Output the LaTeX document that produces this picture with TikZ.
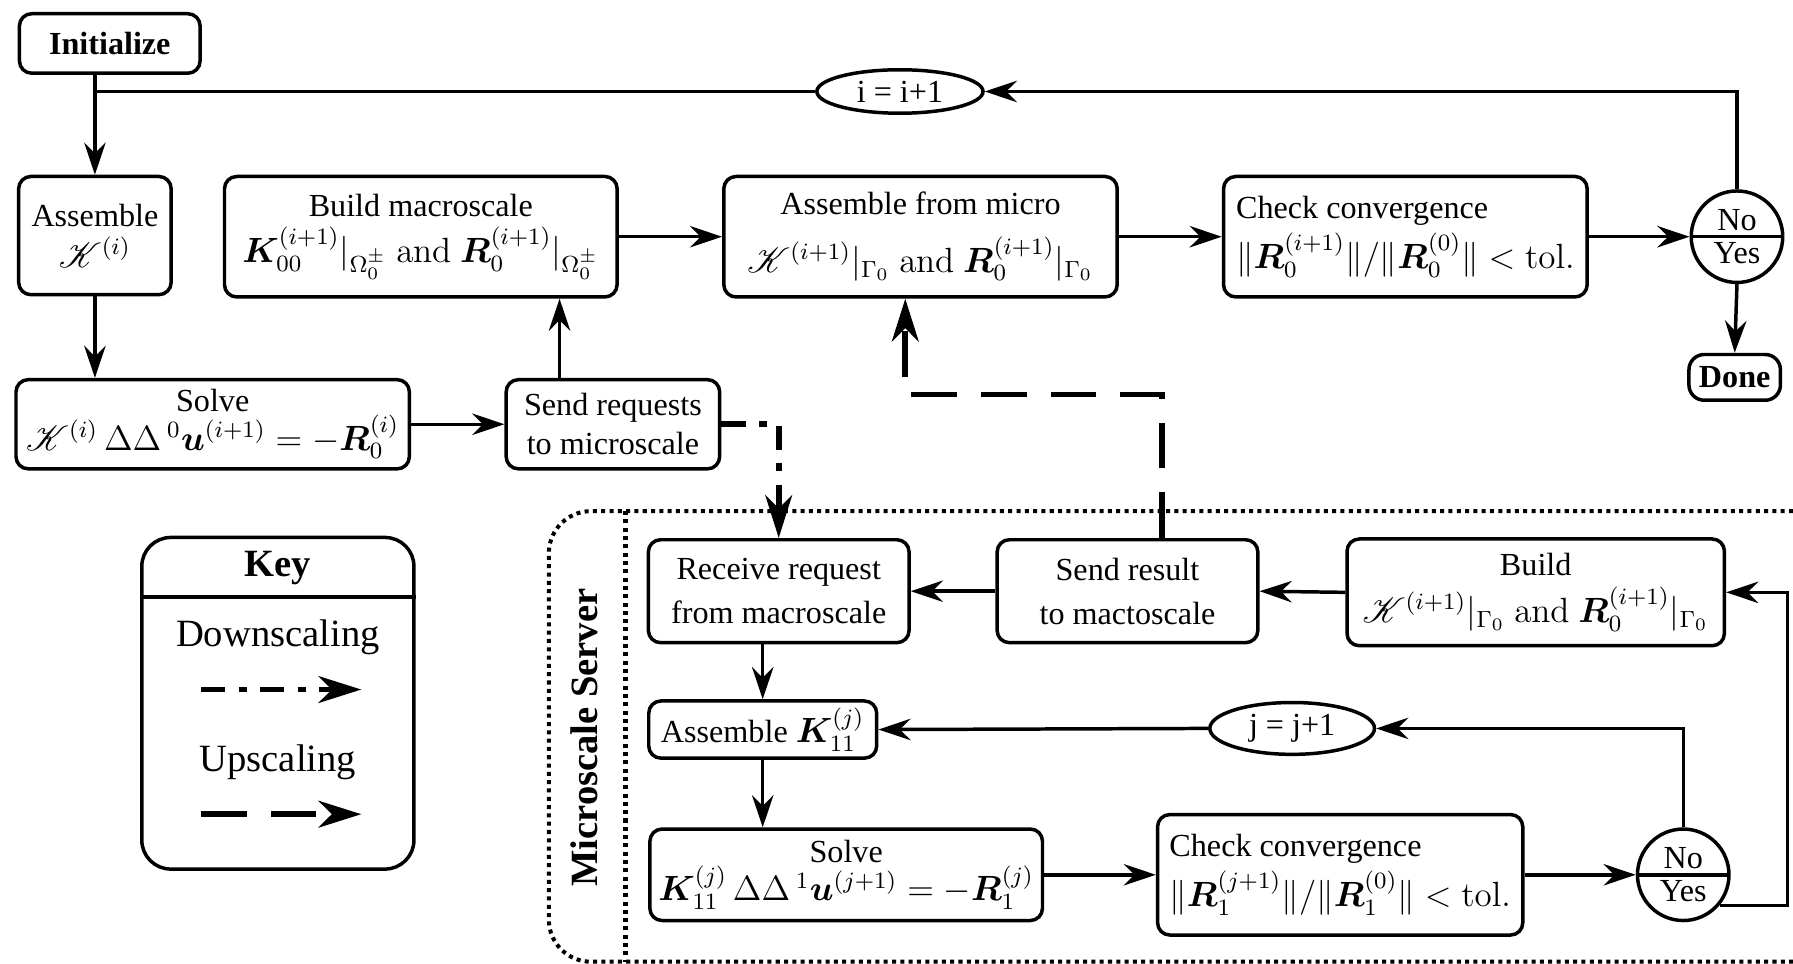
\documentclass[tikz,border=0pt]{standalone}
\usepackage[no-math]{fontspec}
\setmainfont{Liberation Serif}
\usepackage{amsmath,bm,mathrsfs}
\usetikzlibrary{shapes.geometric,shapes.multipart,arrows.meta}

\begin{document}
\begin{tikzpicture}[
  x=0.015cm, y=-0.015cm,
  every node/.style={font=\fontsize{12}{14.4}\selectfont, inner sep=2pt},
  procbox/.style={draw, line width=1.3pt, rounded corners=0.16cm, align=center},
  counter/.style={draw, ellipse, line width=1.3pt, inner sep=0pt},
  decision/.style={draw, circle split, line width=1.3pt, minimum size=1.2cm, inner sep=1.5pt},
  arr/.style={line width=1.3pt, -{Stealth[length=12pt,width=8pt,inset=4pt]}},
  downscale/.style={line width=2.1pt, dash pattern=on 9pt off 5pt on 3pt off 5pt,
    -{Stealth[length=16pt,width=10pt,inset=5pt]}},
  upscale/.style={line width=2.1pt, dash pattern=on 17pt off 9pt,
    -{Stealth[length=16pt,width=10pt,inset=5pt]}},
  frame/.style={line width=1.5pt, dash pattern=on 1.5pt off 1.6pt},
]
%-------------------------------------------------------------
\newcommand{\bigfont}{\fontsize{14.4}{17.3}\selectfont}
\newcommand{\eqline}[1]{\scalebox{1.09}{$#1$}}
\newcommand{\andtxt}{\ \mathrm{and}\ }

\useasboundingbox (0,0) rectangle (1568,843);

%============================================================
% macroscale
\node[procbox, font=\fontsize{12}{14.4}\selectfont\bfseries, minimum width=2.37cm, minimum height=0.78cm] (Init) at (96,38) {Initialize};
\node[counter, minimum width=2.18cm, minimum height=0.57cm] (iinc) at (787,80) {i = i+1};
\node[procbox, minimum width=2cm, minimum height=1.55cm] (AsmK0) at (83,206) {Assemble\\[1pt] \eqline{\mathscr{K}^{(i)}}};
\node[procbox, minimum width=5.15cm, minimum height=1.58cm] (BuildMac) at (368,207) {Build macroscale\\[3pt] \eqline{\bm{K}_{00}^{(i+1)}|_{\Omega_0^{\pm}} \andtxt \bm{R}_0^{(i+1)}|_{\Omega_0^{\pm}}}};
\node[procbox, minimum width=5.16cm, minimum height=1.58cm] (AsmMicro) at (805,207) {Assemble from micro\\[7pt] \eqline{\mathscr{K}^{(i+1)}|_{\Gamma_0} \andtxt \bm{R}_0^{(i+1)}|_{\Gamma_0}}};
\node[procbox, align=left, minimum width=4.77cm, minimum height=1.58cm] (CheckMac) at (1229,207) {Check convergence\\[2pt] \eqline{\|\bm{R}_0^{(i+1)}\|/\|\bm{R}_0^{(0)}\| < \mathrm{tol.}}};
\node[decision] (Conv0) at (1519,207) {No \nodepart{lower} Yes};
\node[procbox, font=\fontsize{12}{14.4}\selectfont\bfseries, rounded corners=0.2cm, inner sep=1pt, minimum width=1.2cm, minimum height=0.6cm] (Done) at (1517,330) {Done};
\node[procbox, minimum width=5.16cm, minimum height=1.17cm] (Solve0) at (186,371) {Solve\\ \eqline{\mathscr{K}^{(i)}\,\Delta\Delta\,{}^0\bm{u}^{(i+1)} = -\bm{R}_0^{(i)}}};
\node[procbox, minimum width=2.8cm, minimum height=1.17cm] (SendReq) at (536,371) {Send requests\\ to microscale};

%============================================================
% microscale server
\draw[frame, rounded corners=0.55cm] (1568,447) -- (480,447) -- (480,841) -- (1568,841);
\draw[frame] (547,447) -- (547,841);
\node[rotate=90, font=\bigfont\bfseries] (ServerLbl) at (511,645) {Microscale Server};

\node[procbox, minimum width=3.42cm, minimum height=1.35cm] (RecvReq) at (681,517) {Receive request\\[2pt] from macroscale};
\node[procbox, minimum width=3.42cm, minimum height=1.35cm] (SendRes) at (986,517) {Send result\\[2pt] to mactoscale};
\node[procbox, minimum width=4.95cm, minimum height=1.4cm] (BuildMic) at (1343,518) {Build\\[3pt] \eqline{\mathscr{K}^{(i+1)}|_{\Gamma_0} \andtxt \bm{R}_0^{(i+1)}|_{\Gamma_0}}};
\node[procbox, minimum width=2.99cm, minimum height=0.75cm] (AsmK1) at (667,638) {Assemble \eqline{\bm{K}_{11}^{(j)}}};
\node[counter, minimum width=2.16cm, minimum height=0.68cm] (jinc) at (1130,637) {j = j+1};
\node[procbox, minimum width=5.15cm, minimum height=1.2cm] (Solve1) at (740,765) {Solve\\ \eqline{\bm{K}_{11}^{(j)}\,\Delta\Delta\,{}^1\bm{u}^{(j+1)} = -\bm{R}_1^{(j)}}};
\node[procbox, align=left, minimum width=4.79cm, minimum height=1.58cm] (CheckMic) at (1172,765) {Check convergence\\[2pt] \eqline{\|\bm{R}_1^{(j+1)}\|/\|\bm{R}_1^{(0)}\| < \mathrm{tol.}}};
\node[decision] (Conv1) at (1472,765) {No \nodepart{lower} Yes};

%============================================================
% key
\node[procbox, rounded corners=0.38cm, minimum width=3.57cm, minimum height=4.35cm] (KeyBox) at (243,615) {};
\node[font=\bigfont\bfseries] (KeyTitle) at (243,497) {Key};
\coordinate (KeyRule) at (243,522);
\draw[line width=1.3pt] (KeyBox.west |- KeyRule) -- (KeyBox.east |- KeyRule);
\node[font=\bigfont] (DownLbl) at (243,557) {Downscaling};
\node[font=\bigfont] (UpLbl) at (243,667) {Upscaling};
\coordinate (DownA) at (176,603);
\coordinate (DownB) at (316,603);
\coordinate (UpA) at (176,712);
\coordinate (UpB) at (316,712);
\draw[downscale] (DownA) -- (DownB);
\draw[upscale] (UpA) -- (UpB);

%============================================================
% macro flow
\draw[arr] (Init.south -| AsmK0.north) -- (AsmK0.north);
\draw[arr] (AsmK0.south) -- (AsmK0.south |- Solve0.north);
\draw[arr] (Solve0.east) -- (SendReq.west);
\coordinate (ReqUp) at ([xshift=-0.7cm]SendReq.north);
\draw[arr] (ReqUp) -- (ReqUp |- BuildMac.south);
\draw[arr] (BuildMac.east) -- (AsmMicro.west);
\draw[arr] (AsmMicro.east) -- (CheckMac.west);
\draw[arr] (CheckMac.east) -- (Conv0.west);
\draw[arr] (Conv0.south) -- (Done.north);
\draw[arr] (Conv0.north) |- (iinc.east);
\draw[line width=1.3pt] (iinc.west) -- (iinc.west -| AsmK0.north);

%============================================================
% micro flow
\draw[arr] (BuildMic.west) -- (SendRes.east);
\draw[arr] (SendRes.west) -- (RecvReq.east);
\draw[arr] (RecvReq.south -| AsmK1.north) -- (AsmK1.north);
\draw[arr] (AsmK1.south) -- (AsmK1.south |- Solve1.north);
\draw[arr] (Solve1.east) -- (CheckMic.west);
\draw[arr] (CheckMic.east) -- (Conv1.west);
\draw[arr] (Conv1.north) |- (jinc.east);
\draw[arr] (jinc.west) -- (AsmK1.east);
\coordinate (YesOut) at (Conv1.-40);
\coordinate (RightRail) at (1563,0);
\draw[arr] (YesOut) -- (YesOut -| RightRail) |- (BuildMic.east);

%============================================================
% scale transfer
\draw[downscale] (SendReq.east) -| (RecvReq.north);
\coordinate (ResUp) at ([xshift=0.45cm]SendRes.north);
\coordinate (UpTurn) at (900,345);
\coordinate (MicroIn) at ([xshift=-0.2cm]AsmMicro.south);
\draw[upscale] (ResUp) |- (UpTurn) -| (MicroIn);

\end{tikzpicture}
\end{document}
